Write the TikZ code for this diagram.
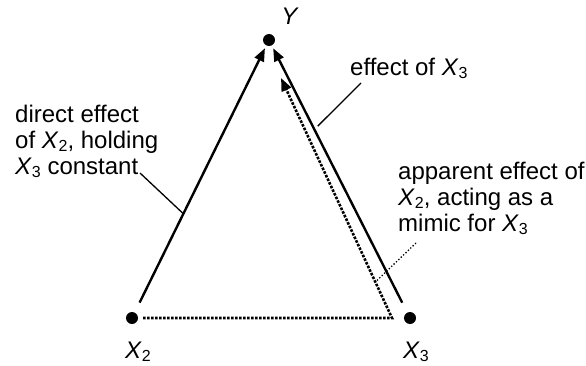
\documentclass[tikz,border=0pt]{standalone}
\usepackage{fontspec}
\setmainfont{Liberation Sans}
\usetikzlibrary{arrows.meta,calc}
\newcommand\Xsub[1]{\textit{X}\raisebox{-3.5pt}{\fontsize{16}{16}\selectfont #1}}
\begin{document}
\begin{tikzpicture}[x=1pt,y=1pt,
  font=\fontsize{24}{26}\selectfont,
  dotnode/.style={circle,fill=black,inner sep=0pt,minimum size=12pt},
  lbl/.style={inner sep=0pt,align=left},
  mainarrow/.style={line width=2.4pt,-{Triangle[length=13pt,width=10pt]},shorten <=11pt,shorten >=3pt},
  dotline/.style={line width=2.6pt,dash pattern=on 2.6pt off 1.4pt},
  leader/.style={line width=1.3pt},
  dotleader/.style={line width=1.3pt,dash pattern=on 1.3pt off 2pt}]
\useasboundingbox (0,0) rectangle (586,365);
\node[dotnode] (Y) at (269,325) {};
\node[dotnode] (X2) at (132,47) {};
\node[dotnode] (X3) at (410,47) {};
\node[inner sep=0pt,anchor=base] (Ylab) at (290,340) {\textit{Y}};
\node[inner sep=0pt,anchor=base west] (X2lab) at (125,7) {\Xsub{2}};
\node[inner sep=0pt,anchor=base west] (X3lab) at (403,7) {\Xsub{3}};
\draw[mainarrow] (X2) -- (Y);
\draw[mainarrow] (X3) -- (Y);
\coordinate (start) at (143,47);
\coordinate (corner) at (392,47);
\coordinate (dtip) at (281,287);
\draw[dotline,-{Triangle[length=13pt,width=10pt]}] (start) -- (corner) -- (dtip);
\node[lbl,anchor=north west] (direct) at (15,260.5) {direct effect\\of \Xsub{2}, holding\\\Xsub{3} constant};
\node[lbl,anchor=base west] (eff3) at (350,290) {effect of \Xsub{3}};
\node[lbl,anchor=north west] (appar) at (398,203.5) {apparent effect of\\\Xsub{2}, acting as a\\mimic for \Xsub{3}};
\coordinate (l1a) at (140,192);
\coordinate (l1b) at ($(X2)!0.375!(Y)$);
\draw[leader] (l1a) -- (l1b);
\coordinate (l2a) at (361,282);
\coordinate (l2b) at ($(X3)!0.69!(Y)+(5,0)$);
\draw[leader] (l2a) -- (l2b);
\coordinate (l3a) at (416,122);
\coordinate (l3b) at ($(corner)!0.15!(dtip)$);
\draw[dotleader] (l3a) -- (l3b);
\end{tikzpicture}
\end{document}
